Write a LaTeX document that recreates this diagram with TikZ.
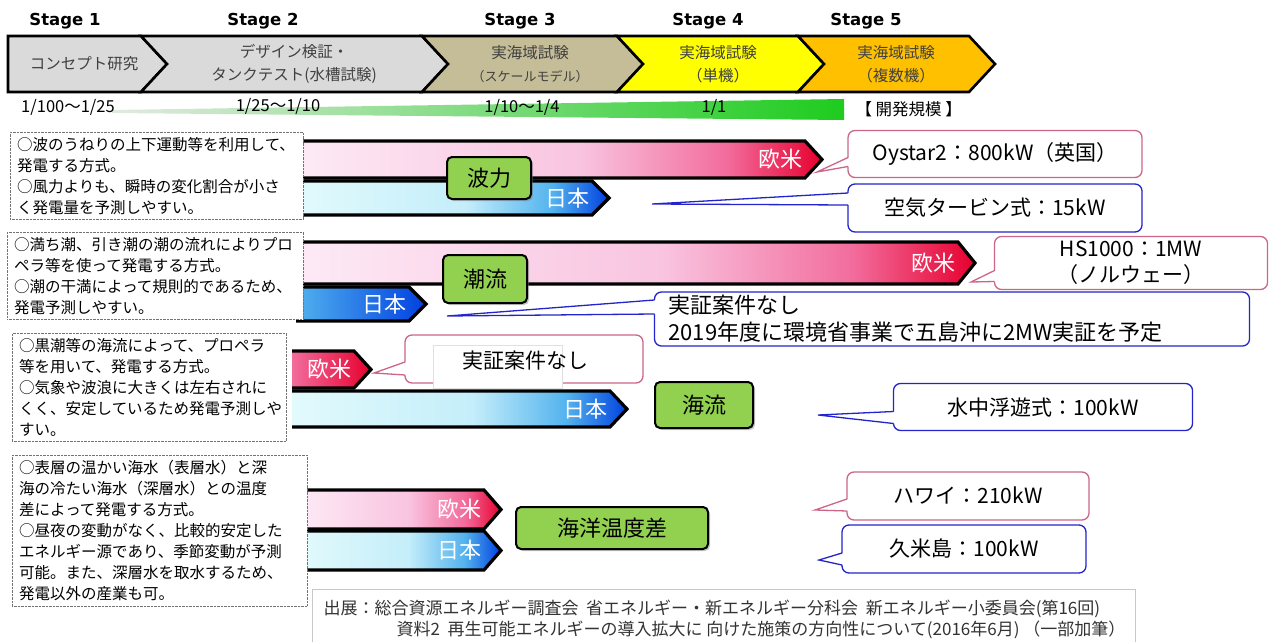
\documentclass[tikz,border=0pt]{standalone}
\usepackage{fontspec}
\setmainfont{Noto Sans CJK JP}
\newfontfamily\stagefont{DejaVu Sans}
\usetikzlibrary{positioning,shadows}

\definecolor{eu0}{HTML}{FDEAF6}
\definecolor{eu1}{HTML}{F9C4E0}
\definecolor{eu2}{HTML}{F26C9C}
\definecolor{eu3}{HTML}{E6002E}
\definecolor{jp0}{HTML}{E2FAFC}
\definecolor{jp1}{HTML}{C4EEFA}
\definecolor{jp2}{HTML}{52B2EE}
\definecolor{jp3}{HTML}{0040E0}
\definecolor{grn0}{HTML}{E2EAE2}
\definecolor{grn1}{HTML}{1ECC1E}
\definecolor{techgreen}{HTML}{92D050}
\definecolor{eupink}{HTML}{CC6688}
\definecolor{jpblue}{HTML}{2424CC}
\definecolor{stgrey}{HTML}{DADADA}
\definecolor{stkhaki}{HTML}{C4BD97}
\definecolor{styellow}{HTML}{FFFF00}
\definecolor{storange}{HTML}{FFC000}

\pgfdeclarehorizontalshading{eushade}{100bp}{color(0bp)=(eu0); color(25bp)=(eu0); color(52bp)=(eu1); color(66bp)=(eu2); color(75bp)=(eu3); color(100bp)=(eu3)}
\pgfdeclarehorizontalshading{jpshade}{100bp}{color(0bp)=(jp0); color(25bp)=(jp0); color(52bp)=(jp1); color(66bp)=(jp2); color(75bp)=(jp3); color(100bp)=(jp3)}
\pgfdeclarehorizontalshading{eushort}{100bp}{color(0bp)=(eu2); color(25bp)=(eu2); color(75bp)=(eu3); color(100bp)=(eu3)}
\pgfdeclarehorizontalshading{jpshort}{100bp}{color(0bp)=(jp2); color(25bp)=(jp2); color(75bp)=(jp3); color(100bp)=(jp3)}

% shading, x from, x tip, y top, y bottom, label, name
\newcommand{\flowbar}[7]{%
  \shade[shading=#1] (#2,#4) -- ({#3-17},#4) -- (#3,{(#4+#5)/2}) -- ({#3-17},#5) -- (#2,#5) -- cycle;
  \draw[line width=3.2pt] (#2,#4) -- ({#3-17},#4) -- (#3,{(#4+#5)/2}) -- ({#3-17},#5) -- (#2,#5);
  \node[barlabel] (#7) at ({#3-16},{(#4+#5)/2}) {#6};
}
% callout box, colour, tip, upper and lower offset from its top
\newcommand{\tail}[5]{%
  \fill[white] ([shift={(1.6,#4)}]#1.north west) -- (#3) -- ([shift={(1.6,#5)}]#1.north west) -- cycle;
  \draw[#2,line width=1.3pt] ([shift={(0,#4)}]#1.north west) -- (#3) -- ([shift={(0,#5)}]#1.north west);
}

\begin{document}
\begin{tikzpicture}[x=1pt,y=-1pt,
    stagebox/.style={draw=black,line width=2.6pt},
    stagetext/.style={text=black!75,align=center,font=\fontsize{15.5}{23}\selectfont},
    stagelabel/.style={font=\stagefont\bfseries\fontsize{16.5}{18}\selectfont},
    scalelabel/.style={font=\fontsize{16.5}{18}\selectfont},
    desc/.style={draw=black!55,densely dotted,fill=white,anchor=north west,align=left,
                 inner xsep=7pt,inner ysep=5pt,font=\fontsize{15.5}{21}\selectfont},
    tech/.style={draw=black,line width=2pt,rounded corners=5pt,fill=techgreen,
                 font=\fontsize{22}{24}\selectfont,
                 drop shadow={shadow xshift=2pt,shadow yshift=-2pt,opacity=.45}},
    barlabel/.style={text=white,anchor=east,font=\fontsize{22}{24}\selectfont},
    note/.style={draw=#1,line width=1.3pt,rounded corners=7pt,fill=white,outer sep=0pt,
                 font=\fontsize{21}{26}\selectfont},
    source/.style={anchor=west,text=black!80,font=\fontsize{17}{19}\selectfont}]

\useasboundingbox (0,0) rectangle (1271,642);

% stages
\filldraw[stagebox,fill=stgrey] (8,36) -- (141,36) -- (167,64) -- (141,92) -- (8,92) -- cycle;
\filldraw[stagebox,fill=stgrey] (141,36) -- (422,36) -- (448,64) -- (422,92) -- (141,92) -- (167,64) -- cycle;
\filldraw[stagebox,fill=stkhaki] (422,36) -- (617,36) -- (643,64) -- (617,92) -- (422,92) -- (448,64) -- cycle;
\filldraw[stagebox,fill=styellow] (617,36) -- (798,36) -- (824,64) -- (798,92) -- (617,92) -- (643,64) -- cycle;
\filldraw[stagebox,fill=storange] (798,36) -- (969,36) -- (995,64) -- (969,92) -- (798,92) -- (824,64) -- cycle;

\node[stagetext] (s1) at (84,64) {コンセプト研究};
\node[stagetext] (s2) at (294,64) {デザイン検証・\\タンクテスト(水槽試験)};
\node[stagetext] (s3) at (530,64) {実海域試験\\{\fontsize{13}{15}\selectfont（スケールモデル）}};
\node[stagetext] (s4) at (718,64) {実海域試験\\（単機）};
\node[stagetext] (s5) at (896,64) {実海域試験\\（複数機）};

\node[stagelabel] (l1) at (65,21) {Stage 1};
\node[stagelabel] (l2) at (263,21) {Stage 2};
\node[stagelabel] (l3) at (520,21) {Stage 3};
\node[stagelabel] (l4) at (708,21) {Stage 4};
\node[stagelabel] (l5) at (866,21) {Stage 5};

% scale
\shade[left color=grn0,right color=grn1] (112,110) -- (844,99) -- (844,120) -- (112,113) -- cycle;
\coordinate (scaleend) at (844,109);
\node[scalelabel] (r1) at (68,107) {1/100～1/25};
\node[scalelabel] (r2) at (278,106) {1/25～1/10};
\node[scalelabel] (r3) at (522,107) {1/10～1/4};
\node[scalelabel] (r4) at (714,107) {1/1};
\node[scalelabel,right=8pt of scaleend] (r5) {【 開発規模 】};

% bars
\flowbar{eushade}{296}{822}{141}{178}{欧米}{waveEU}
\flowbar{jpshade}{296}{609}{181}{215}{日本}{waveJP}
\flowbar{eushade}{296}{975}{242}{284}{欧米}{tideEU}
\flowbar{jpshort}{296}{426}{287}{321}{日本}{tideJP}
\flowbar{eushort}{292}{371}{351}{388}{欧米}{currEU}
\flowbar{jpshade}{292}{627}{391}{427}{日本}{currJP}
\flowbar{eushade}{300}{501}{490}{529}{欧米}{otecEU}
\flowbar{jpshade}{300}{501}{531}{570}{日本}{otecJP}

% descriptions
\node[desc,text width=279pt] (d1) at (10,132) {○波のうねりの上下運動等を利用して、\\発電する方式。\\○風力よりも、瞬時の変化割合が小さ\\く発電量を予測しやすい。};
\node[desc,text width=282pt] (d2) at (7,232) {○満ち潮、引き潮の潮の流れによりプロ\\ペラ等を使って発電する方式。\\○潮の干満によって規則的であるため、\\発電予測しやすい。};
\node[desc,text width=260pt] (d3) at (12,333) {○黒潮等の海流によって、プロペラ\\等を用いて、発電する方式。\\○気象や波浪に大きくは左右されに\\くく、安定しているため発電予測しや\\すい。};
\node[desc,text width=281pt] (d4) at (12,455) {○表層の温かい海水（表層水）と深\\海の冷たい海水（深層水）との温度\\差によって発電する方式。\\○昼夜の変動がなく、比較的安定した\\エネルギー源であり、季節変動が予測\\可能。また、深層水を取水するため、\\発電以外の産業も可。};

% technologies
\node[tech,minimum width=84pt,minimum height=42pt] (wave) at (489,178) {波力};
\node[tech,minimum width=84pt,minimum height=48pt] (tide) at (485,279) {潮流};
\node[tech,minimum width=98pt,minimum height=46pt] (current) at (704,405) {海流};
\node[tech,minimum width=192pt,minimum height=42pt] (otec) at (612,528) {海洋温度差};

% callouts
\node[note=eupink,minimum width=294pt,minimum height=47pt] (c1) at (995,154) {Oystar2：800kW（英国）};
\coordinate (t1) at (817,172);
\tail{c1}{eupink}{t1}{27}{36}

\node[note=jpblue,minimum width=294pt,minimum height=48pt] (c2) at (995,208) {空気タービン式：15kW};
\coordinate (t2) at (652,204);
\tail{c2}{jpblue}{t2}{9}{21}

\node[note=eupink,minimum width=273pt,minimum height=53pt,align=center] (c3) at (1131,263) {HS1000：1MW\\（ノルウェー）};
\coordinate (t3) at (971,282);
\tail{c3}{eupink}{t3}{34}{45}

\node[note=jpblue,minimum width=595pt,minimum height=53pt,align=left,text width=567pt,inner xsep=14pt,
      font=\fontsize{22}{27}\selectfont] (c4) at (952,319) {実証案件なし\\2019年度に環境省事業で五島沖に2MW実証を予定};
\coordinate (t4) at (447,316);
\tail{c4}{jpblue}{t4}{8}{22}

\node[note=eupink,minimum width=238pt,minimum height=48pt] (c5) at (524,359) {};
\node[draw=black!12,fill=white,minimum width=129pt,minimum height=43pt] (c5mask) at (497.5,366.5) {};
\node[font=\fontsize{21}{24}\selectfont] (c5txt) at (525,361) {実証案件なし};
\coordinate (t5) at (374,373);
\tail{c5}{eupink}{t5}{27}{40}

\node[note=jpblue,minimum width=299pt,minimum height=47pt] (c6) at (1043,407) {水中浮遊式：100kW};
\coordinate (t6) at (818,415);
\tail{c6}{jpblue}{t6}{28}{40}

\node[note=eupink,minimum width=242pt,minimum height=48pt] (c7) at (968,496) {ハワイ：210kW};
\coordinate (t7) at (815,510);
\tail{c7}{eupink}{t7}{27}{39}

\node[note=jpblue,minimum width=244pt,minimum height=48pt] (c8) at (964,549) {久米島：100kW};
\coordinate (t8) at (819,560);
\tail{c8}{jpblue}{t8}{28}{40}

% source
\node[draw=black!22,fill=white,anchor=north west,minimum width=823pt,minimum height=54pt] (src) at (312,589) {};
\node[source] (src1) at (320,609) {出展：総合資源エネルギー調査会\ \ 省エネルギー・新エネルギー分科会\ \ 新エネルギー小委員会(第16回)};
\node[source] (src2) at (393,630) {資料2\ \ 再生可能エネルギーの導入拡大に 向けた施策の方向性について(2016年6月)\ （一部加筆）};

\end{tikzpicture}
\end{document}
